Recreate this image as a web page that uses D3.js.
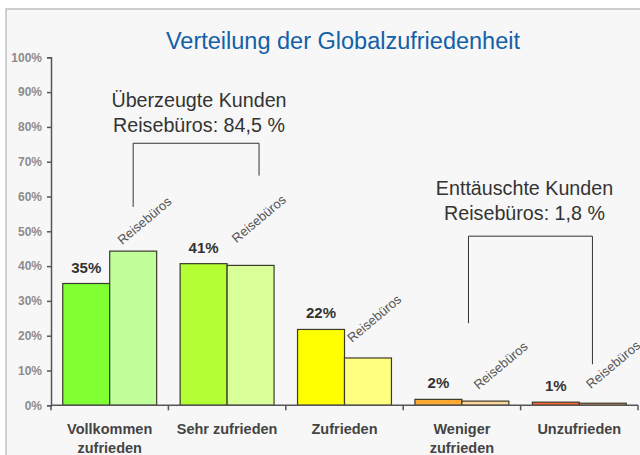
<!DOCTYPE html>
<html>
<head>
<meta charset="utf-8">
<script src="https://cdn.jsdelivr.net/npm/d3@7"></script>
<style>
  body { margin: 0; background: #ffffff; }
  svg { display: block; font-family: Arial, "Liberation Sans", sans-serif; }
</style>
</head>
<body>
<div id="chart"></div>
<script>
// data
const categories = [["Vollkommen", "zufrieden"], ["Sehr zufrieden"], ["Zufrieden"], ["Weniger", "zufrieden"], ["Unzufrieden"]];
const gesamtValues = [35.0, 40.7, 21.8, 1.7, 0.9];
const reisebueroValues = [44.3, 40.2, 13.6, 1.2, 0.6];
const darkColors = ["#80ff33", "#b3ff33", "#ffff00", "#ffaa33", "#ff6633"];
const lightColors = ["#c0ff99", "#d9ff99", "#ffff80", "#ffd699", "#f5a070"];
const yTicks = [0, 10, 20, 30, 40, 50, 60, 70, 80, 90, 100];

function drawChart() {
    let width = 640, height = 455;

    let svg = d3.select("#chart")
        .append("svg")
        .attr("width", width)
        .attr("height", height);

    // grey panel with a frame
    svg.append("rect")
        .attr("x", 6).attr("y", 9)
        .attr("width", 650).attr("height", 460)
        .attr("fill", "#f7f7f7")
        .attr("stroke", "#c0c0c0")
        .attr("stroke-width", 1.5);

    let keys = categories.map(function(d) { return d.join(" "); });

    let x = d3.scaleBand()
        .domain(keys)
        .range([51, 638])
        .paddingInner(0.2)
        .paddingOuter(0.1);

    let xs = d3.scaleBand()
        .domain([0, 1])
        .range([0, x.bandwidth()]);

    let y = d3.scaleLinear()
        .domain([0, 100])
        .range([405.3, 57.3]);

    // title
    svg.append("text")
        .attr("x", 343).attr("y", 48.5)
        .attr("text-anchor", "middle")
        .style("font-size", "23.5px")
        .attr("fill", "#1160a8")
        .text("Verteilung der Globalzufriedenheit");

    // y axis
    let yAxis = svg.append("g")
        .attr("transform", "translate(51,0)")
        .call(d3.axisLeft(y).tickValues(yTicks).tickFormat(function(d) { return d + "%"; }).tickSize(4).tickPadding(5));
    yAxis.select(".domain").attr("stroke", "#555").attr("stroke-width", 1.5);
    yAxis.selectAll(".tick line").attr("stroke", "#555").attr("stroke-width", 1.5);
    yAxis.selectAll(".tick text")
        .attr("fill", "#8c8c8c")
        .style("font-size", "12px")
        .style("font-weight", "bold")
        .style("font-family", "Arial, 'Liberation Sans', sans-serif");

    // bars
    let rows = keys.map(function(k, i) {
        return { key: k, i: i, vals: [gesamtValues[i], reisebueroValues[i]] };
    });

    let groups = svg.selectAll("g.cat")
        .data(rows)
        .enter()
        .append("g")
        .attr("class", "cat")
        .attr("transform", function(d) { return "translate(" + x(d.key) + ",0)"; });

    groups.selectAll("rect")
        .data(function(d) { return d.vals.map(function(v, s) { return { v: v, s: s, i: d.i }; }); })
        .enter()
        .append("rect")
        .attr("x", function(d) { return xs(d.s); })
        .attr("y", function(d) { return y(d.v); })
        .attr("width", xs.bandwidth())
        .attr("height", function(d) { return y(0) - y(d.v); })
        .attr("fill", function(d) { return d.s === 0 ? darkColors[d.i] : lightColors[d.i]; })
        .attr("stroke", "#3a3a2a")
        .attr("stroke-width", 1.2);

    // value labels on the dark bars
    groups.append("text")
        .attr("x", xs(0) + xs.bandwidth() / 2)
        .attr("y", function(d) { return y(d.vals[0]) - 11; })
        .attr("text-anchor", "middle")
        .style("font-size", "15px")
        .style("font-weight", "bold")
        .attr("fill", "#333")
        .text(function(d) { return Math.round(d.vals[0]) + "%"; });

    // rotated "Reisebüros" labels, hand-placed like in the original
    let nudge = [[-11, -6], [-14, -22], [-16, -15], [-7, -11], [-12, -14]];
    groups.append("text")
        .attr("transform", function(d) {
            let n = nudge[d.i];
            return "translate(" + (xs(1) + xs.bandwidth() / 2 + n[0]) + "," + (y(d.vals[1]) + n[1]) + ") rotate(-40)";
        })
        .style("font-size", "13px")
        .attr("fill", "#555")
        .text("Reisebüros");

    // x axis with ticks between categories
    let x0 = x.range()[0], x1 = x.range()[1];
    svg.append("line")
        .attr("x1", x0).attr("x2", x1)
        .attr("y1", y(0)).attr("y2", y(0))
        .attr("stroke", "#555").attr("stroke-width", 1.5);
    svg.selectAll("line.xtick")
        .data(d3.range(keys.length + 1))
        .enter()
        .append("line")
        .attr("class", "xtick")
        .attr("x1", function(d) { return x0 + d * x.step(); })
        .attr("x2", function(d) { return x0 + d * x.step(); })
        .attr("y1", y(0)).attr("y2", y(0) + 5)
        .attr("stroke", "#555").attr("stroke-width", 1.5);

    // category labels
    let catText = groups.append("text")
        .attr("text-anchor", "middle")
        .style("font-size", "14.5px")
        .style("font-weight", "bold")
        .attr("fill", "#444");
    catText.selectAll("tspan")
        .data(function(d) { return categories[d.i]; })
        .enter()
        .append("tspan")
        .attr("x", x.bandwidth() / 2)
        .attr("y", function(d, j) { return 434 + j * 18.5; })
        .text(function(d) { return d; });

    // annotation brackets
    let bw = x.bandwidth();
    let brackets = [
        { x1: x(keys[0]) + bw * 0.75, x2: x(keys[1]) + bw * 0.84, top: 75.3, b1: 57, b2: 66 },
        { x1: x(keys[3]) + bw * 0.57, x2: x(keys[4]) + bw * 0.64, top: 48.6, b1: 23.6, b2: 11.8 }
    ];
    svg.selectAll("polyline.bracket")
        .data(brackets)
        .enter()
        .append("polyline")
        .attr("class", "bracket")
        .attr("fill", "none")
        .attr("stroke", "#333")
        .attr("stroke-width", 1)
        .attr("points", function(d) {
            return [[d.x1, y(d.b1)], [d.x1, y(d.top)], [d.x2, y(d.top)], [d.x2, y(d.b2)]];
        });

    let notes = [
        { cx: 199, y: 107, lines: ["Überzeugte Kunden", "Reisebüros: 84,5 %"] },
        { cx: 524.5, y: 195, lines: ["Enttäuschte Kunden", "Reisebüros: 1,8 %"] }
    ];
    let noteText = svg.selectAll("text.note")
        .data(notes)
        .enter()
        .append("text")
        .attr("class", "note")
        .attr("text-anchor", "middle")
        .style("font-size", "19.7px")
        .attr("fill", "#333");
    noteText.selectAll("tspan")
        .data(function(d) { return d.lines.map(function(l) { return { l: l, d: d }; }); })
        .enter()
        .append("tspan")
        .attr("x", function(t) { return t.d.cx; })
        .attr("y", function(t, j) { return t.d.y + j * 24.5; })
        .text(function(t) { return t.l; });
}

drawChart();
</script>
</body>
</html>
